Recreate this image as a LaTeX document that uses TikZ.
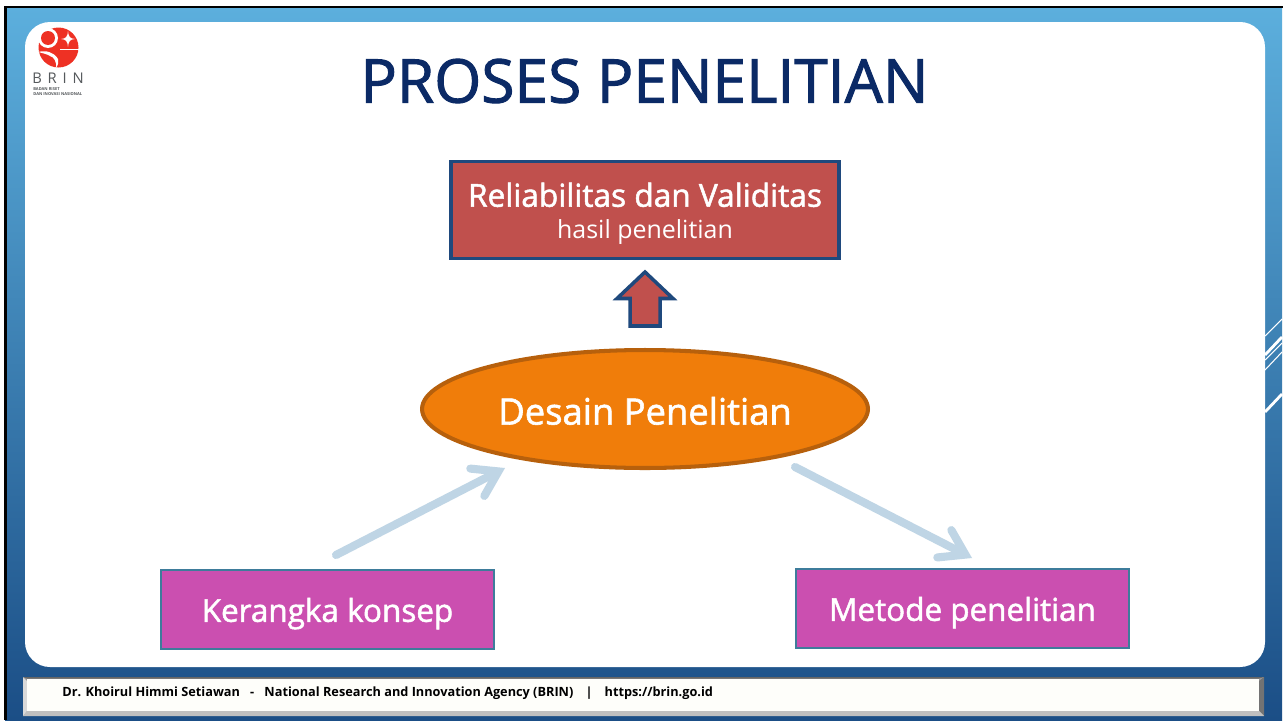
\documentclass[tikz,border=0pt]{standalone}
\usepackage{fontspec}
\setmainfont{Open Sans}
\newfontfamily\tebal[FakeBold=1.6]{Open Sans}
\usepackage{xcolor}
\usetikzlibrary{arrows.meta,shapes.geometric}
\definecolor{titleblue}{HTML}{0B2A66}
\definecolor{boxred}{HTML}{C0504D}
\definecolor{boxblue}{HTML}{1F497D}
\definecolor{ovalorange}{HTML}{F07D0A}
\definecolor{ovaledge}{HTML}{B7600C}
\definecolor{boxpink}{HTML}{CB4FB0}
\definecolor{pinkedge}{HTML}{3E7C9B}
\definecolor{arrowblue}{HTML}{BFD5E5}
\definecolor{logored}{HTML}{EE3124}
\definecolor{logogrey}{HTML}{55595C}
\definecolor{atas}{RGB}{92,175,221}
\definecolor{bawah}{RGB}{27,78,134}
\definecolor{krem}{RGB}{254,254,250}
\begin{document}
\begin{tikzpicture}[x=0.02cm,y=-0.02cm,
    pinkbox/.style={draw=pinkedge,line width=0.9pt,fill=boxpink,text=white,minimum width=6.66cm,minimum height=1.58cm,inner sep=0pt,text height=14pt,text depth=0pt,font=\tebal\fontsize{17.9}{21}\selectfont},
    flowarrow/.style={draw=arrowblue,line width=4.6pt,line cap=round,-{Straight Barb[length=13.5pt,width=17.5pt,line cap=round,line join=miter]}},
    stripe/.style={draw=white}]
\useasboundingbox (0,0) rectangle (1283,720);
\fill[white] (0,0) rectangle (1283,720);
\shade[top color=atas,bottom color=bawah] (5,7) rectangle (1282,720);
\draw[black,line width=1.7pt] (5.5,720) -- (5.5,7) -- (1283,7);
\draw[stripe,line width=0.6pt] (1265,336) -- (1282,319);
\draw[stripe,line width=1.6pt] (1265,355) -- (1282,337);
\draw[stripe,line width=0.6pt] (1265,360) -- (1282,343);
\draw[stripe,line width=0.6pt] (1265,370) -- (1282,352);
\draw[stripe,line width=1.6pt] (1265,412) -- (1282,394);
\fill[white,rounded corners=0.5cm] (25,22) rectangle (1265,667);
\fill[logored] (58.5,47.5) circle (20);
\fill[white] (48,38) circle (10);
\fill[logored] (48,38) circle (7);
\fill[white] (60,48.5) rectangle (79,50);
\fill[white] (68,31) .. controls (68.5,37) and (70,38.5) .. (75,39) .. controls (70,39.5) and (68.5,41) .. (68,47) .. controls (67.5,41) and (66,39.5) .. (61,39) .. controls (66,38.5) and (67.5,37) .. (68,31) -- cycle;
\fill[white] (38,52) .. controls (46,50) and (54,52) .. (58,59) .. controls (59,62) and (58,65) .. (56,68) .. controls (57,62) and (54,57) .. (50,56) .. controls (47,54) and (42,53) .. (38,52) -- cycle;
\node[text=logogrey,inner sep=0pt,font=\fontsize{8.4}{8.4}\selectfont] (brin) at (58,78) {B\hspace{3.3pt}R\hspace{3.3pt}I\hspace{3.3pt}N};
\node[text=logogrey,inner sep=0pt,align=left,anchor=west,font=\bfseries\fontsize{2.3}{2.4}\selectfont] (brinsub) at (33,91.5) {BADAN RISET\\DAN INOVASI NASIONAL};
\node[text=titleblue,inner sep=0pt,font=\tebal\fontsize{34.4}{36}\selectfont] (judul) at (644.5,81) {PROSES PENELITIAN};
\node[draw=boxblue,line width=2pt,fill=boxred,text=white,minimum width=7.76cm,minimum height=1.94cm,inner sep=0pt,align=center,font=\tebal\fontsize{18}{21}\selectfont] (hasil) at (645,210) {\rule{0pt}{17.7pt}Reliabilitas dan Validitas\\[-3pt]{\fontspec{Open Sans}\fontsize{14.2}{17}\selectfont hasil penelitian}};
\node[ellipse,draw=ovaledge,line width=2.3pt,fill=ovalorange,text=white,minimum width=8.92cm,minimum height=2.36cm,inner sep=0pt,text height=17.7pt,text depth=0pt,font=\tebal\fontsize{20.7}{24}\selectfont] (desain) at (645,409) {Desain Penelitian};
\node[pinkbox] (kerangka) at (327.5,609.5) {Kerangka konsep};
\node[pinkbox] (metode) at (962.5,608.5) {Metode penelitian};
\draw[draw=boxblue,line width=2pt,fill=boxred,line join=miter] (645,272) -- (673,298.5) -- (660,298.5) -- (660,326) -- (630,326) -- (630,298.5) -- (617,298.5) -- cycle;
\coordinate (kerangkakeluar) at (336,555);
\coordinate (desainmasuk) at (505,468);
\coordinate (desainkeluar) at (795,467);
\coordinate (metodemasuk) at (972,558);
\path[flowarrow] (kerangkakeluar) -- (desainmasuk);
\path[flowarrow] (desainkeluar) -- (metodemasuk);
\fill[white!60!black] (23,677) rectangle (1264,716);
\fill[white!85!black] (23,677) -- (27,681) -- (27,711) -- (23,716) -- cycle;
\fill[white!45!black] (1264,677) -- (1259,681) -- (1259,711) -- (1264,716) -- cycle;
\fill[white!75!black] (23,716) -- (27,711) -- (1259,711) -- (1264,716) -- cycle;
\fill[white!40!black] (23,677) -- (1264,677) -- (1259,678.5) -- (27,678.5) -- cycle;
\node[fill=krem,minimum width=24.64cm,minimum height=0.65cm,inner sep=0pt] (kaki) at (643,695) {};
\node[anchor=west,inner sep=0pt,text=black,font=\bfseries\fontsize{7.25}{9}\selectfont] (nama) at (62,693.5) {Dr. Khoirul Himmi Setiawan\hspace{0.8em}-\hspace{0.8em}National Research and Innovation Agency (BRIN)\hspace{0.95em}|\hspace{0.95em}https://brin.go.id};
\end{tikzpicture}
\end{document}
